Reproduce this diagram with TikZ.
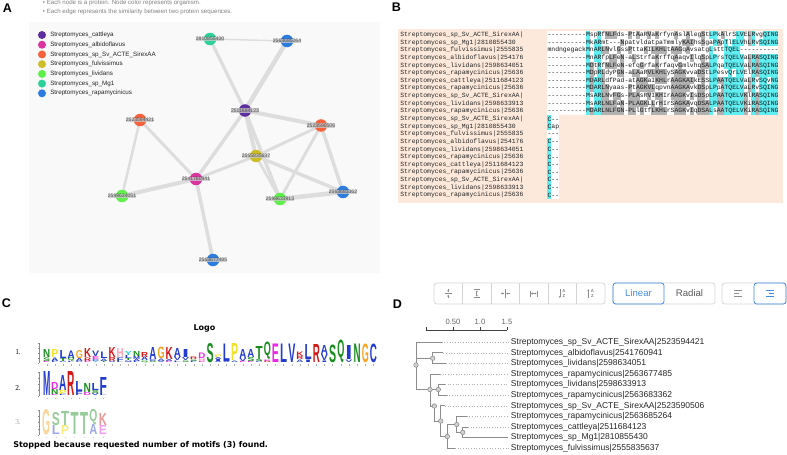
\documentclass[tikz,border=0pt]{standalone}
\usepackage{fontspec}
\setmainfont{Liberation Sans}
\setmonofont{Liberation Mono}
\newfontfamily\verdfont{DejaVu Sans}
\newfontfamily\romfont{Liberation Serif}
\usepackage{graphicx}
\usepackage{xstring}
\usetikzlibrary{positioning, arrows.meta, backgrounds}
\newlength{\pxu}
\setlength{\pxu}{0.75pt}
% organism colours
\definecolor{cattcolor}{RGB}{94,45,160}
\definecolor{albicolor}{RGB}{220,52,158}
\definecolor{sirexcolor}{RGB}{247,98,60}
\definecolor{fulvcolor}{RGB}{205,190,40}
\definecolor{lividcolor}{RGB}{95,240,75}
\definecolor{mgcolor}{RGB}{45,210,155}
\definecolor{rapacolor}{RGB}{45,125,225}
\definecolor{edgecolor}{RGB}{221,221,221}
\definecolor{panelbg}{RGB}{249,249,249}
\definecolor{peach}{RGB}{253,233,219}
\definecolor{hicyan}{RGB}{95,238,242}
\definecolor{higray}{RGB}{178,178,178}
\definecolor{btnblue}{RGB}{70,140,230}
\definecolor{btnline}{RGB}{212,212,212}
% residue colours
\definecolor{aaB}{RGB}{35,60,205}
\definecolor{aaG}{RGB}{25,140,30}
\definecolor{aaM}{RGB}{235,40,230}
\definecolor{aaR}{RGB}{210,25,25}
\definecolor{aaH}{RGB}{255,160,180}
\definecolor{aaO}{RGB}{245,165,35}
\definecolor{aaY}{RGB}{240,225,40}
\definecolor{aaC}{RGB}{40,200,210}
\tikzset{paneltag/.style={font=\fontsize{9.4}{10}\selectfont\bfseries, inner sep=0pt, anchor=south west}}
\tikzset{note/.style={font=\fontsize{4.6}{5}\selectfont, text=black!50, inner sep=0pt, anchor=west}}
\tikzset{legtext/.style={font=\fontsize{4.7}{5}\selectfont, text=black!85, inner sep=0pt, anchor=west}}
\tikzset{legdot/.style={circle, fill=#1, minimum size=6pt, inner sep=0pt}}
\tikzset{netnode/.style={circle, fill=#1, minimum size=9.4pt, inner sep=0pt}}
\tikzset{netedge/.style={draw=edgecolor, line cap=round}}
\tikzset{idlabel/.style={fill=black!22, fill opacity=0.8, text opacity=1, text=black!70, inner sep=0.3pt, font=\fontsize{3.8}{4}\selectfont}}
\tikzset{seqname/.style={font=\ttfamily\fontsize{4.81}{5}\selectfont, text=black!85, inner sep=0pt, anchor=west}}
\tikzset{seqtext/.style={font=\ttfamily\fontsize{4.81}{5}\selectfont, text=black!90, inner sep=0pt, anchor=west}}
\tikzset{logoletter/.style={anchor=south, inner sep=0pt, font=\bfseries}}
\tikzset{logoaxis/.style={draw=black!45, line width=0.3pt}}
\tikzset{logotitle/.style={font=\verdfont\fontsize{6}{7}\selectfont\bfseries, inner sep=0pt}}
\tikzset{rowno/.style={font=\romfont\fontsize{5.6}{6}\selectfont, inner sep=0pt, anchor=west}}
\tikzset{btnbox/.style={draw=btnline, rounded corners=2pt, line width=0.5pt}}
\tikzset{btnon/.style={draw=btnblue, rounded corners=2pt, line width=0.6pt}}
\tikzset{btntext/.style={font=\fontsize{7.2}{8}\selectfont, inner sep=0pt}}
\tikzset{icon/.style={draw=black!45, line width=0.45pt}}
\tikzset{branch/.style={draw=black!45, line width=0.7pt}}
\tikzset{leaflink/.style={draw=black!30, line width=0.4pt, dash pattern=on 0.8pt off 1.2pt, shorten >=1.5pt}}
\tikzset{treenode/.style={circle, draw=black!45, fill=black!18, minimum size=3.4pt, inner sep=0pt, line width=0.4pt}}
\tikzset{leaftext/.style={font=\fontsize{6.4}{7}\selectfont, text=black!85, inner sep=0pt, anchor=west}}
\tikzset{scaletext/.style={font=\fontsize{5.7}{6}\selectfont, text=black!60, inner sep=0pt}}
% shading keys of the alignment
\def\consC{..........M.AR............................LP..TQELV..R.SQING}
\def\consG{...........D..LNLFGN.PLAGKVLKHL.AAGKAI.DSA..AA.....KL.A.....}
% sequence logo stacks
\newcommand{\logox}{0}
\newcommand{\logodx}{0}
\newcommand{\logobase}{0}
\newcommand{\logow}{5pt}
\newcommand{\setlogo}[4]{\renewcommand{\logox}{#1}\renewcommand{\logodx}{#2}\renewcommand{\logobase}{#3}\renewcommand{\logow}{#4}}
\newcommand{\logocol}[3]{%
  \gdef\stkbase{0}%
  \foreach \ltr/\clr/\hh [count=\k] in {#3}{%
    \node[logoletter, text=\clr] (#1c#2-\k) at ({\logox+\logodx*(#2-1)},{\logobase-\stkbase}) {\resizebox{\logow}{\hh\pxu}{\ltr}};
    \pgfmathsetmacro\stknext{\stkbase+\hh}\xdef\stkbase{\stknext}%
  }}

\begin{document}
\begin{tikzpicture}[x=0.75pt, y=-0.75pt]
	\useasboundingbox (0,0) rectangle (787,454);
	
	%%% PANEL A %%%
	
	% TAG AND NOTES
	\node[paneltag] (tagA) at (2.5,12.8) {A};
	\node[note] (bulletA1) at (42.5,3.3) {\textbullet};
	\node[note] (noteA1) at (46.5,3.3) {Each node is a protein. Node color represents organism.};
	\node[note] (bulletA2) at (42.5,12) {\textbullet};
	\node[note] (noteA2) at (46.5,12) {Each edge represents the similarity between two protein sequences.};
	
	% LEGEND
	\foreach \i/\clr/\nm in {1/cattcolor/cattleya, 2/albicolor/albidoflavus, 3/sirexcolor/sp\_Sv\_ACTE\_SirexAA, 4/fulvcolor/fulvissimus, 5/lividcolor/lividans, 6/mgcolor/sp\_Mg1, 7/rapacolor/rapamycinicus}{
		\node[legdot=\clr] (dot\i) at (42,{35+9.72*(\i-1)}) {};
		\node[legtext] (leg\i) at (50,{35+9.72*(\i-1)}) {Streptomyces\_\nm};
	}
	
	% NETWORK NODES
	\node[netnode=mgcolor] (mg) at (210,39) {};
	\node[netnode=rapacolor] (rapaT) at (287,41) {};
	\node[netnode=cattcolor] (catt) at (245,110.5) {};
	\node[netnode=sirexcolor] (sirexL) at (140,120) {};
	\node[netnode=sirexcolor] (sirexR) at (321,125.5) {};
	\node[netnode=fulvcolor] (fulv) at (256,156) {};
	\node[netnode=albicolor] (albi) at (196,179) {};
	\node[netnode=lividcolor] (lividL) at (122,196) {};
	\node[netnode=lividcolor] (lividR) at (280,199) {};
	\node[netnode=rapacolor] (rapaR) at (343,192) {};
	\node[netnode=rapacolor] (rapaB) at (213,260) {};
	
	% NETWORK LABELS
	\node[idlabel] (mglab) at (mg) {2810855430};
	\node[idlabel] (rapaTlab) at (rapaT) {2563685264};
	\node[idlabel] (cattlab) at (catt) {2511684123};
	\node[idlabel] (sirexLlab) at (sirexL) {2523594421};
	\node[idlabel] (sirexRlab) at (sirexR) {2523590506};
	\node[idlabel] (fulvlab) at (fulv) {2555835637};
	\node[idlabel] (albilab) at (albi) {2541760941};
	\node[idlabel] (lividLlab) at (lividL) {2598634051};
	\node[idlabel] (lividRlab) at (lividR) {2598633913};
	\node[idlabel] (rapaRlab) at (rapaR) {2563683362};
	\node[idlabel] (rapaBlab) at (rapaB) {2563677485};
	
	% NETWORK EDGES
	\begin{scope}[on background layer]
		\fill[panelbg] (29,22) rectangle (380,273);
		\draw[netedge, line width=1.1pt] (mg) -- (rapaT);
		\draw[netedge, line width=2.4pt] (mg) -- (catt);
		\draw[netedge, line width=3.4pt] (rapaT) -- (catt);
		\draw[netedge, line width=3.0pt] (catt) -- (sirexR);
		\draw[netedge, line width=2.6pt] (catt) -- (albi);
		\draw[netedge, line width=3.0pt] (catt) -- (fulv);
		\draw[netedge, line width=2.6pt] (catt) -- (lividR);
		\draw[netedge, line width=2.2pt] (fulv) -- (sirexR);
		\draw[netedge, line width=2.2pt] (fulv) -- (albi);
		\draw[netedge, line width=2.6pt] (fulv) -- (rapaR);
		\draw[netedge, line width=2.0pt] (fulv) -- (lividR);
		\draw[netedge, line width=2.2pt] (sirexR) -- (lividR);
		\draw[netedge, line width=2.6pt] (sirexR) -- (rapaR);
		\draw[netedge, line width=3.4pt] (lividR) -- (rapaR);
		\draw[netedge, line width=2.2pt] (sirexL) -- (albi);
		\draw[netedge, line width=1.9pt] (sirexL) -- (lividL);
		\draw[netedge, line width=3.0pt] (lividL) -- (albi);
		\draw[netedge, line width=2.6pt] (albi) -- (rapaB);
	\end{scope}
	
	%%% PANEL B %%%
	
	\node[paneltag] (tagB) at (391.5,11.8) {B};
	\fill[peach] (398,29) rectangle (783,203);
	\fill[white] (547.3,31.2) rectangle (778.3,114.8);
	\fill[white] (547.3,115.2) rectangle (558.85,198.8);
	
	% ALIGNMENT, FIRST BLOCK
	\foreach \r/\sq in {1/----------MspRfNLFds-PtAaRVaKrfynAslAlegStLPkAlrSLVELRvgQING,
		2/----------MkARmt---NpatvldatpaTmmlyKAIhsSgaPApTlELVhLRvSQING,
		3/mndngegackMnARLNvlGssPttaKILKHLtAAGqAvsatgLsttTQEL----------,
		4/----------MnARfpLFeN-aLStrfaKrffqAaqvIlqSpLPrsTQELVaLRASQING,
		5/----------MDtRfNLFeN-efqGrfaKrfaqvGmlvhqSALPqaTQELVaLRASQING,
		6/----------MDpRLdyPGN-aLAaRVLKHLySAGKvvaDStLPesvQrLVElRASQING,
		7/----------MDARLdfPad-atAGKaIKHLrAAGKAIkESSLPAATQELVaLRvSQvNG,
		8/----------MDARLNyaas-PtAGKVLqpvnAAGKAvkDSpLPpATQELVaLRvSQING,
		9/----------MsARLNvFGs-PLAsRVIKHIrAAGKvIsDSpLPAATQELVKlRASQING,
		10/----------MsARLNLFaN-PLAGKLLrHIrSAGKAvqDSALPAATQELVKiRASQING,
		11/----------MDARLNLFGN-PLlGtfLKHLrSAGKvIqDSALsAATQELVKiRASQING}{
		\foreach \i in {11,...,60}{
			\StrChar{\sq}{\i}[\chA]\StrChar{\consC}{\i}[\chC]\StrChar{\consG}{\i}[\chG]%
			\ifx\chA\chC
				\fill[hicyan] ({547.3+3.85*(\i-1)},{31.2+7.6*(\r-1)}) rectangle +(3.95,7.65);
			\else\ifx\chA\chG
				\fill[higray] ({547.3+3.85*(\i-1)},{31.2+7.6*(\r-1)}) rectangle +(3.95,7.65);
			\fi\fi
		}
		\node[seqtext] (seq\r) at (547.3,{35+7.6*(\r-1)}) {\sq};
	}
	
	% ALIGNMENT, SECOND BLOCK
	\foreach \r/\tl/\hc in {1/C--/1, 2/Cap/1, 3/---/0, 4/C--/1, 5/C--/1, 6/C--/1, 7/C--/1, 8/C--/1, 9/C--/1, 10/C--/1, 11/C--/1}{
		\ifnum\hc=1 \fill[hicyan] (547.3,{115.2+7.6*(\r-1)}) rectangle +(3.85,7.65); \fi
		\node[seqtext] (tail\r) at (547.3,{119+7.6*(\r-1)}) {\tl};
	}
	
	% SEQUENCE NAMES
	\foreach \r/\nm in {1/sp\_Sv\_ACTE\_SirexAA|, 2/sp\_Mg1|2810855430, 3/fulvissimus|2555835, 4/albidoflavus|254176, 5/lividans|2598634051, 6/rapamycinicus|25636, 7/cattleya|2511684123, 8/rapamycinicus|25636, 9/sp\_Sv\_ACTE\_SirexAA|, 10/lividans|2598633913, 11/rapamycinicus|25636}{
		\node[seqname] (nameA\r) at (400,{35+7.6*(\r-1)}) {Streptomyces\_\nm};
		\node[seqname] (nameB\r) at (400,{119+7.6*(\r-1)}) {Streptomyces\_\nm};
	}
	
	%%% PANEL C %%%
	
	\node[paneltag] (tagC) at (1.7,308.3) {C};
	\node[logotitle] (logotitle) at (204.5,328) {Logo};
	\node[rowno] (row1) at (15,352) {1.};
	\node[rowno] (row2) at (15,388) {2.};
	\node[rowno, text=black!35] (row3) at (15,422) {3.};
	
	% AXES
	\foreach \b/\t/\n in {362.7/343.3/41, 396/372/8, 435/410/7}{
		\draw[logoaxis] (39,\b) -- (39,\t);
		\foreach \s in {0,...,4} \draw[logoaxis] (39,{\b+(\t-\b)*\s/4}) -- ++(-1.3,0);
	}
	\foreach \i in {1,...,41} \draw[logoaxis, draw=black!30] ({46.7+8.17*(\i-1)},364.3) -- ++(0,1.6);
	\foreach \i in {1,...,8} \draw[logoaxis, draw=black!30] ({46.7+8.1*(\i-1)},397.6) -- ++(0,1.6);
	\foreach \i in {1,...,7} \draw[logoaxis, draw=black!20] ({46.4+9.4*(\i-1)},436.6) -- ++(0,1.6);
	
	% MOTIF 1
	\setlogo{46.7}{8.17}{362.7}{5.3pt}
	\logocol{la}{1}{E/aaM/1.2, S/aaG/3.5, N/aaG/8}
	\logocol{la}{2}{F/aaB/1.2, A/aaB/3.5, P/aaY/8}
	\logocol{la}{3}{C/aaB/1.2, T/aaG/3, L/aaB/8}
	\logocol{la}{4}{L/aaB/1.2, Q/aaG/3, A/aaB/7.5}
	\logocol{la}{5}{C/aaB/1.2, A/aaB/3, G/aaO/8}
	\logocol{la}{6}{E/aaM/1.2, R/aaR/3.5, K/aaR/9}
	\logocol{la}{7}{Y/aaC/1.2, C/aaB/2, E/aaM/3, V/aaB/5.5}
	\logocol{la}{8}{T/aaG/1.2, A/aaB/2.5, L/aaB/6.5}
	\logocol{la}{9}{A/aaB/1.2, R/aaR/4, K/aaR/10}
	\logocol{la}{10}{L/aaB/1.2, F/aaB/3.5, H/aaH/9}
	\logocol{la}{11}{M/aaB/1.5, T/aaG/2, L/aaB/3, Y/aaC/4}
	\logocol{la}{12}{F/aaB/1.2, A/aaB/2, M/aaB/3, N/aaG/5}
	\logocol{la}{13}{Q/aaG/1.5, A/aaB/3.5, R/aaR/5}
	\logocol{la}{14}{S/aaG/1.2, C/aaB/2, A/aaB/12}
	\logocol{la}{15}{V/aaB/1.2, A/aaB/2.5, G/aaO/11.5}
	\logocol{la}{16}{E/aaM/1.2, A/aaB/2, K/aaR/12}
	\logocol{la}{17}{L/aaB/1.5, V/aaB/3.5, A/aaB/9}
	\logocol{la}{18}{S/aaG/1.5, V/aaB/3, I/aaB/8}
	\logocol{la}{19}{F/aaB/1.2, S/aaG/1.5, R/aaR/2.5}
	\logocol{la}{20}{E/aaM/1.2, H/aaH/3, D/aaM/5.5}
	\logocol{la}{21}{S/aaG/19}
	\logocol{la}{22}{A/aaB/1.2, I/aaB/2, A/aaB/2, P/aaY/2.5}
	\logocol{la}{23}{A/aaB/1.2, L/aaB/17.5}
	\logocol{la}{24}{A/aaB/1.5, P/aaY/17}
	\logocol{la}{25}{E/aaM/1.2, V/aaB/3, A/aaB/9}
	\logocol{la}{26}{E/aaM/1.2, S/aaG/4, A/aaB/8}
	\logocol{la}{27}{C/aaB/1.2, S/aaG/2, T/aaG/13}
	\logocol{la}{28}{R/aaR/1.2, E/aaM/1.5, Q/aaG/13.5}
	\logocol{la}{29}{E/aaM/18.5}
	\logocol{la}{30}{L/aaB/18.5}
	\logocol{la}{31}{V/aaB/18.5}
	\logocol{la}{32}{A/aaB/2.5, R/aaR/3, K/aaR/4.5}
	\logocol{la}{33}{I/aaB/2.5, L/aaB/15}
	\logocol{la}{34}{R/aaR/18}
	\logocol{la}{35}{I/aaB/1.5, V/aaB/6, A/aaB/9}
	\logocol{la}{36}{S/aaG/17.5}
	\logocol{la}{37}{Q/aaG/17.5}
	\logocol{la}{38}{V/aaB/2.5, I/aaB/14}
	\logocol{la}{39}{N/aaG/18.5}
	\logocol{la}{40}{G/aaO/18.5}
	\logocol{la}{41}{C/aaB/18.5}
	
	% MOTIF 2
	\setlogo{46.7}{8.1}{396}{5.5pt}
	\logocol{lb}{1}{M/aaB/24}
	\logocol{lb}{2}{E/aaM/1.2, N/aaG/5, D/aaM/7}
	\logocol{lb}{3}{F/aaB/1.5, P/aaY/4, A/aaB/15}
	\logocol{lb}{4}{R/aaR/24}
	\logocol{lb}{5}{F/aaB/4, L/aaB/10}
	\logocol{lb}{6}{D/aaM/3, N/aaG/9}
	\logocol{lb}{7}{V/aaB/2, S/aaG/3, L/aaB/7}
	\logocol{lb}{8}{L/aaB/1.5, F/aaB/17}
	
	% MOTIF 3
	\setlogo{46.4}{9.4}{435}{6pt}
	\logocol{lc}{1}{G/aaO!45/25}
	\logocol{lc}{2}{L/aaB!45/9, S/aaG!45/13}
	\logocol{lc}{3}{P/aaY!60/9, T/aaG!45/14}
	\logocol{lc}{4}{T/aaG!45/22}
	\logocol{lc}{5}{T/aaG!45/22}
	\logocol{lc}{6}{A/aaB!45/10, Q/aaG!45/12}
	\logocol{lc}{7}{E/aaM!45/9, K/aaR!45/12}
	
	\node[logotitle, anchor=west] (stopnote) at (13,445) {Stopped because requested number of motifs (3) found.};
	
	%%% PANEL D %%%
	
	\node[paneltag] (tagD) at (392.5,308.5) {D};
	
	% BUTTONS
	\draw[btnbox] (434,283) rectangle (605,304);
	\foreach \k in {1,...,5} \draw[draw=btnline, line width=0.5pt] ({434+28.5*\k},283) -- ({434+28.5*\k},304);
	\draw[icon] (444.5,293.5) -- (452,293.5);
	\draw[icon, -{Stealth[length=1.3pt, width=1.6pt]}] (448.25,289.3) -- (448.25,292.2);
	\draw[icon, -{Stealth[length=1.3pt, width=1.6pt]}] (448.25,297.7) -- (448.25,294.8);
	\draw[icon] (473.5,289.5) -- (480,289.5);
	\draw[icon] (473.5,297.5) -- (480,297.5);
	\draw[icon, {Stealth[length=1.3pt, width=1.6pt]}-{Stealth[length=1.3pt, width=1.6pt]}] (476.75,290.5) -- (476.75,296.5);
	\draw[icon] (505.25,289) -- (505.25,298);
	\draw[icon, -{Stealth[length=1.3pt, width=1.6pt]}] (501,293.5) -- (504.2,293.5);
	\draw[icon, -{Stealth[length=1.3pt, width=1.6pt]}] (509.5,293.5) -- (506.3,293.5);
	\draw[icon] (530,290.5) -- (530,296.5);
	\draw[icon] (537.5,290.5) -- (537.5,296.5);
	\draw[icon, {Stealth[length=1.3pt, width=1.6pt]}-{Stealth[length=1.3pt, width=1.6pt]}] (531,293.5) -- (536.5,293.5);
	\draw[icon, -{Stealth[length=1.3pt, width=1.6pt]}] (559.8,289.3) -- (559.8,297.8);
	\node[btntext, font=\fontsize{3.2}{3.4}\selectfont\bfseries, text=black!50] (sortA1) at (564,291) {A};
	\node[btntext, font=\fontsize{3.2}{3.4}\selectfont\bfseries, text=black!50] (sortZ1) at (564,296) {Z};
	\draw[icon, -{Stealth[length=1.3pt, width=1.6pt]}] (588.3,297.8) -- (588.3,289.3);
	\node[btntext, font=\fontsize{3.2}{3.4}\selectfont\bfseries, text=black!50] (sortA2) at (592.5,291) {A};
	\node[btntext, font=\fontsize{3.2}{3.4}\selectfont\bfseries, text=black!50] (sortZ2) at (592.5,296) {Z};
	
	\draw[btnbox] (613,283) rectangle (715,304);
	\draw[btnon] (613,283) rectangle (664,304);
	\node[btntext, text=btnblue] (linear) at (638.5,293.5) {Linear};
	\node[btntext, text=black!65] (radial) at (689.5,293.5) {Radial};
	
	\draw[btnbox] (722,283) rectangle (786,304);
	\draw[btnon] (754,283) rectangle (786,304);
	\draw[icon] (734,290.5) -- (742,290.5);
	\draw[icon] (734,293.5) -- (739,293.5);
	\draw[icon] (734,296.5) -- (742,296.5);
	\draw[icon, draw=btnblue] (766,290.5) -- (774,290.5);
	\draw[icon, draw=btnblue] (769,293.5) -- (774,293.5);
	\draw[icon, draw=btnblue] (766,296.5) -- (774,296.5);
	
	% SCALE
	\draw[draw=black!75, line width=0.5pt] (426,330) -- (507,330);
	\foreach \x in {426,453,480,507} \draw[draw=black!75, line width=0.5pt] (\x,330) -- (\x,327);
	\node[scaletext] (s050) at (453,321.5) {0.50};
	\node[scaletext] (s10) at (480,321.5) {1.0};
	\node[scaletext] (s15) at (507,321.5) {1.5};
	
	% LEAVES
	\foreach \n/\ex/\nm in {1/441.7/sp\_Sv\_ACTE\_SirexAA|2523594421, 2/443.3/albidoflavus|2541760941, 3/446/lividans|2598634051, 4/440/rapamycinicus|2563677485, 5/445/lividans|2598633913, 6/446.7/rapamycinicus|2563683362, 7/445/sp\_Sv\_ACTE\_SirexAA|2523590506, 8/466.7/rapamycinicus|2563685264, 9/468/cattleya|2511684123, 10/508/sp\_Mg1|2810855430, 11/455/fulvissimus|2555835637}{
		\node[leaftext] (leaf\n) at (510.7,{342.3+10.6*(\n-1)}) {Streptomyces\_\nm};
		\coordinate (e\n) at (\ex,{342.3+10.6*(\n-1)});
	}
	
	% INNER NODES
	\node[treenode] (troot) at (416,365) {};
	\node[treenode] (tA) at (432.7,358.2) {};
	\node[treenode] (tB) at (430,389.5) {};
	\node[treenode] (tP) at (438.3,389.5) {};
	\node[treenode] (tC) at (434.3,406) {};
	\node[treenode] (tD) at (440.7,421) {};
	\node[treenode] (tF) at (447.3,436.4) {};
	\node[treenode] (tE) at (456.7,424.5) {};
	\node[treenode] (tG) at (462.7,432.4) {};
	
	% BRANCHES
	\begin{scope}[on background layer]
		\draw[branch] (troot.center) |- (e1);
		\draw[branch] (troot.center) |- (tA.center);
		\draw[branch] (troot.center) |- (tB.center);
		\draw[branch] (tA.center) |- (e2);
		\draw[branch] (tA.center) |- (e3);
		\draw[branch] (tB.center) |- (e4);
		\draw[branch] (tB.center) -- (tP.center);
		\draw[branch] (tB.center) |- (tC.center);
		\draw[branch] (tP.center) |- (e5);
		\draw[branch] (tP.center) |- (e6);
		\draw[branch] (tC.center) |- (tD.center);
		\draw[branch] (tD.center) |- (e7);
		\draw[branch] (tD.center) |- (tF.center);
		\draw[branch] (tF.center) |- (tE.center);
		\draw[branch] (tF.center) |- (e11);
		\draw[branch] (tE.center) |- (e8);
		\draw[branch] (tE.center) |- (tG.center);
		\draw[branch] (tG.center) |- (e9);
		\draw[branch] (tG.center) |- (e10);
	\end{scope}
	\foreach \n in {1,...,9,11} \draw[leaflink] (e\n) -- (leaf\n.west);
	
\end{tikzpicture}
\end{document}
